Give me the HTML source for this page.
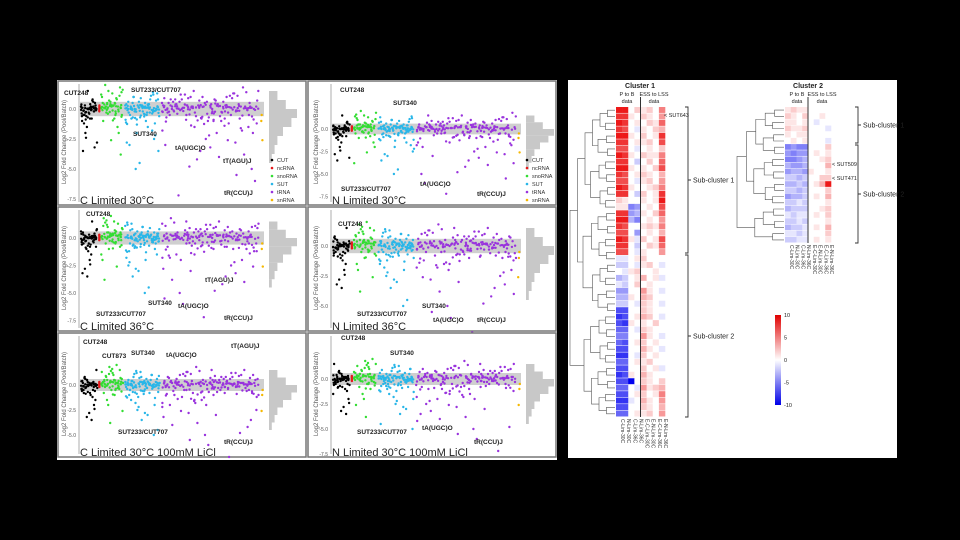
<!DOCTYPE html>
<html><head><meta charset="utf-8">
<style>
html,body{margin:0;padding:0;background:#000;width:960px;height:540px;overflow:hidden;font-family:"Liberation Sans",sans-serif;}
svg{position:absolute;left:0;top:0}
</style></head>
<body>
<svg id="fig" width="960" height="540" viewBox="0 0 960 540">
  <rect x="0" y="0" width="960" height="540" fill="#000"/>
  <rect x="57" y="80" width="500" height="380" fill="#fff"/>
  <rect x="568" y="80" width="329" height="378" fill="#fff"/>
  <g id="scatters"></g>
  <g id="heat"></g>
</svg>
<script>
const cutVals=[0.2,-0.1,0.3,0.5,-0.3,0.1,0.8,-0.6,0.0,0.4,-1.2,-0.2,1.5,0.1,-0.8,-2.0,0.3,-0.4,-3.5,0.6,-1.5,-2.8,0.2,-0.5,-3.2,0.0,-1.0,0.7,-2.4,-0.1];
const ncVals=[0.1,-0.2,0.3,-0.1,0.0,0.2];
const snoVals=[1.2,0.5,-0.3,1.8,0.2,-1.0,0.8,1.5,-0.5,0.3,2.0,-2.0,0.6,1.0,-0.2,0.4,-3.8,1.3,0.1,-1.5,0.7,1.6,-0.8,0.2,1.1,-2.6,0.5,0.9,-0.4,1.4];
const sutVals=[0.3,-0.5,1.0,-1.2,0.2,0.6,-0.3,-2.0,0.8,0.1,-0.8,1.4,-4.5,0.4,-1.5,0.0,0.7,-0.2,-3.0,1.1,0.3,-0.6,-1.0,0.5,-2.5,0.9,-0.1,0.4,-5.0,1.3,-0.4,0.2,-1.8,0.6,-0.9,0.1,1.0,-2.2,0.3,-0.3,0.8,-1.3,-3.5,0.5,0.0,1.2,-0.7,-2.8,0.4,-0.2];
const trnaVals=[0.5,-0.3,1.2,0.2,-1.0,0.8,-0.5,1.5,0.0,-2.0,0.6,-0.8,1.0,-3.0,0.3,0.9,-1.5,0.4,-0.2,1.3,-4.2,0.7,-0.6,0.1,1.8,-2.5,0.5,-1.2,0.2,-5.0,0.8,-0.4,1.1,-3.5,0.3,0.6,-0.9,1.4,-2.2,0.0,0.9,-0.3,-6.0,0.4,1.2,-1.6,0.2,-0.7,1.0,-4.8,0.5,-0.2,0.8,-2.8,0.3,1.5,-1.0,0.1,-3.8,0.6,-0.5,1.1,0.2,-2.0,0.7,-7.2,0.4,-0.8,0.9,-1.4,0.3,-0.1,-3.2,0.6,1.3,-0.6,0.2,-4.0,0.8,-1.8,0.5,-0.3,-2.6,1.0,0.1,-0.9,0.4,-5.5,0.7,-0.2];
const snVals=[-1.0,-2.6,-0.5];
const classNames=["CUT","ncRNA","snoRNA","SUT","tRNA","snRNA"];
const classColors=["#000000","#e41a1c","#33dd33","#29b6e8","#9933dd","#f5b800"];
const yTicks=[0,-2.5,-5,-7.5];
const yTickLabels=["0.0","-2.5","-5.0","-7.5"];
const panelTitles=["C Limited 30°C","N Limited 30°C","C Limited 36°C","N Limited 36°C","C Limited 30°C 100mM LiCl","N Limited 30°C 100mM LiCl"];

const NS="http://www.w3.org/2000/svg";
function mk(tag,attrs,parent){const e=document.createElementNS(NS,tag);for(const k in attrs)e.setAttribute(k,attrs[k]);parent.appendChild(e);return e;}

const panels=[
 {px:57,py:80,ax:79,zero:109,sc:12,right:263},
 {px:307,py:80,ax:331,zero:129,sc:9,right:520},
 {px:57,py:206,ax:79,zero:238,sc:11,right:263},
 {px:307,py:206,ax:331,zero:246,sc:12,right:520},
 {px:57,py:332,ax:79,zero:385,sc:10,right:263},
 {px:307,py:332,ax:331,zero:379,sc:10,right:520}
];
const annotations=[
 [["CUT248",64,95],["SUT233/CUT707",131,92],["SUT340",133,136],["tA(UGC)O",175,150],["tT(AGU)J",223,163],["tR(CCU)J",224,195]],
 [["CUT248",340,92],["SUT340",393,105],["SUT233/CUT707",341,191],["tA(UGC)O",420,186],["tR(CCU)J",477,196]],
 [["CUT248",86,216],["tT(AGU)J",205,282],["SUT340",148,305],["SUT233/CUT707",96,316],["tA(UGC)O",178,308],["tR(CCU)J",224,320]],
 [["CUT248",338,226],["SUT340",422,308],["SUT233/CUT707",357,316],["tA(UGC)O",433,322],["tR(CCU)J",477,322]],
 [["CUT248",83,344],["CUT873",102,358],["SUT340",131,355],["tA(UGC)O",166,357],["tT(AGU)J",231,348],["SUT233/CUT707",118,434],["tR(CCU)J",224,444]],
 [["CUT248",341,340],["SUT340",390,355],["SUT233/CUT707",357,434],["tA(UGC)O",422,430],["tR(CCU)J",474,444]]
];
const sg=document.getElementById('scatters');
panels.forEach((p,pi)=>{
  const g=mk('g',{},sg);
  
  
  const fr=mk('rect',{x:p.px+1,y:p.py+1,width:248,height:124,fill:'#fff',stroke:'#777','stroke-width':1.5},g);
  
  
  const yS=v=>p.zero-v*p.sc;
  const band=mk('rect',{x:p.ax+1,y:yS(0.6),width:p.right-p.ax,height:p.sc*1.2,fill:'#cfcfcf'},g);
  
  
  const ax=mk('line',{x1:p.ax,x2:p.ax,y1:p.py+4,y2:p.py+122,stroke:'#999','stroke-width':0.8},g);
  
  
  yTicks.forEach((t,i)=>{const y=yS(t);if(y<p.py+4||y>p.py+124)return;
    const tl=mk('text',{x:p.ax-3,y:y+2,'font-size':5,'text-anchor':'end',fill:'#555'},g);tl.textContent=yTickLabels[i];
    
    });
  const yt=mk('text',{transform:`translate(${p.ax-13},${p.py+62}) rotate(-90)`,'font-size':6,'text-anchor':'middle',fill:'#555'},g);
  yt.textContent='Log2 Fold Change (Pool/Batch)';
  
  
  const w=p.right-p.ax;
  const fr2=[0,0.1,0.11,0.24,0.44,0.98,1.0];
  const sets=[cutVals,ncVals,snoVals,sutVals,trnaVals,snVals];
  sets.forEach((vals,ci)=>{
    const x0=p.ax+2+w*fr2[ci],x1=p.ax+w*fr2[ci+1];
    vals.forEach((v,i)=>{
      const x=x0+(x1-x0)*((i*0.618+pi*0.13)%1);
      const c=mk('circle',{cx:x.toFixed(1),cy:yS(v).toFixed(1),r:1.2,fill:classColors[ci]},g);
      
      
    });
    if(ci===0||ci>=2&&ci<=4){vals.forEach((v,i)=>{const x=x0+(x1-x0)*((i*0.377+0.5)%1);
      const c=mk('circle',{cx:x.toFixed(1),cy:yS(v*0.25).toFixed(1),r:1.2,fill:classColors[ci]},g);
      
      });}
  });
  const hb=[0.3,0.6,1,0.8,0.5,0.3,0.2,0.1];
  hb.forEach((h,i)=>{const r=mk('rect',{x:p.right+6,y:yS(1.5-i*0.75),width:h*28,height:p.sc*0.75,fill:'#c8c8c8'},g);
    
    });
  const tt=mk('text',{x:p.ax+1,y:p.py+124,'font-size':11,fill:'#222'},g);
  tt.textContent=panelTitles[pi];
  
  
  annotations[pi].forEach(a=>{const t=mk('text',{x:a[1],y:a[2],'font-size':6.5,'font-weight':'bold',fill:'#222'},g);t.textContent=a[0];
    
    });
  if(pi<2){classNames.forEach((n,i)=>{const lx=pi===0?272:527,ly=160+i*8;
    const d=mk('circle',{cx:lx,cy:ly,r:1.3,fill:classColors[i]},g);
    
    
    const t=mk('text',{x:lx+5,y:ly+2,'font-size':5.5,fill:'#333'},g);t.textContent=n;
    
    });}
});

const cluster1Rows=["TTKMLMKP","SSLKMLKO","TSKLKMLQ","SRKJLKMN","TTLKMKLS","SSKLLMKR","RRKJKLKM","TSLKMLLP","SSKIKMKQ","TTLKLKMR","SRKLMLKN","RRKJLMKO","TSLKKLMP","SSKIMKLS","MLKKLKLT","LLFGKLKR","SSGHLKMQ","TTHFKLKO","SRKKLMLP","RRKGKLKN","TSLJMKLR","SSKIKMLQ","RRKJLKKO",
"JJKLMKKK","IIKJLMKJ","KJLMKKLK","HIKLNKLJ","JIKMKLKK","GGKKOLKJ","HHLKNMKK","IIKJMLKJ","DDKKMLKK","CDKLNMKJ","DCLKLKMK","EEKJMLKK","FFKKOLKJ","EDKLMKLK","DDKKNLKJ","CCKJMKLK","EEKLLMKK","DDKKMKLJ","CDLKNLKK","DDAKMLKM","EEKJOLMN","DDKLMKLP","CCJKNLKO","DDKKMLKN","EEKLLMKO"];
const cluster2Rows=["LMLLKKKK","MLKMKKLK","LLKLKJKK","MLLMKKKJ","LKLLKKKK","KLKLKKKJ",
"FGFFKKKM","GFGGKLKL","FFGHKKLM","HGGHKKKN","GHHGLKKL","IIHIKKMM","HHIHKLNT","IIHIKKKM","GHHIKLKN","IIJIKKKL","HIIIKKLM","JIJJKLKM","IIJIKKKL","HIIJKLKN","JJIJKKKM","IIJJKLKL"];
const colLabels=["C-Lim-30C","N-Lim-30C","C-Lim-36C","N-Lim-36C","E-C-Lim-30C","E-N-Lim-30C","E-C-Lim-36C","E-N-Lim-36C"];
const scaleTicks=[10,5,0,-5,-10];

function col(v){const t=Math.min(1,Math.abs(v)/10);
  const c=Math.round(255*(1-t));
  if(v>=0){const r=Math.round(255-20*t);return `rgb(${r},${c},${c})`;}
  const b=Math.round(255-15*t);return `rgb(${c},${c},${b})`;}
const hg=document.getElementById('heat');
function heatmap(rows,x0,y0,w,h,dendX,name){
  const g=mk('g',{},hg);
  
  
  const cw=w/8,rh=h/rows.length;
  rows.forEach((r,ri)=>{for(let c=0;c<8;c++){const v=r.charCodeAt(c)-75;
    const rc=mk('rect',{x:(x0+c*cw).toFixed(2),y:(y0+ri*rh).toFixed(2),width:(cw+0.3).toFixed(2),height:(rh*0.92).toFixed(2),fill:col(v)},g);
    
    }});
  const dv=mk('line',{x1:x0+4*cw,x2:x0+4*cw,y1:y0-10,y2:y0+h,stroke:'#333','stroke-width':1},g);
  
  
  let nodes=rows.map((r,i)=>({y:y0+(i+0.5)*rh,x:x0-1}));
  let lvl=0;
  while(nodes.length>1){lvl++;const nn=[];
    for(let i=0;i<nodes.length;i+=2){if(i+1>=nodes.length){nn.push(nodes[i]);continue;}
      const a=nodes[i],b=nodes[i+1];const nx=x0-1-(x0-dendX)*(lvl/Math.ceil(Math.log2(rows.length)))-(i%3);
      const p=mk('path',{d:`M${a.x},${a.y}H${nx}V${b.y}H${b.x}`,fill:'none',stroke:'#555','stroke-width':0.6},g);
      
      
      nn.push({x:nx,y:(a.y+b.y)/2});}
    nodes=nn;}
  colLabels.forEach((l,i)=>{const t=mk('text',{transform:`translate(${x0+i*cw+cw/2+2},${y0+h+2}) rotate(90)`,'font-size':5,fill:'#333'},g);
    t.textContent=l;
    
    });
  return g;
}
const g1=heatmap(cluster1Rows,616,107,49,310,571,'cluster-1-heatmap');
const g2=heatmap(cluster2Rows,785,107,46,136,738,'cluster-2-heatmap');
function txt(s,x,y,fs,anchor,bold,name,parent){const t=mk('text',{x:x,y:y,'font-size':fs,'text-anchor':anchor||'start','font-weight':bold?'bold':'normal',fill:'#222'},parent||hg);t.textContent=s;
  
  return t;}
txt('Cluster 1',640,88,7,'middle',true,'cluster-1-title');
txt('P to B',627,96,5.5,'middle',false,'p-to-b-header');txt('data',627,103,5.5,'middle',false,'p-to-b-header');
txt('ESS to LSS',654,96,5.5,'middle',false,'ess-to-lss-header');txt('data',654,103,5.5,'middle',false,'ess-to-lss-header');
txt('Cluster 2',808,88,7,'middle',true,'cluster-2-title');
txt('P to B',797,96,5.5,'middle',false,'p-to-b-header');txt('data',797,103,5.5,'middle',false,'p-to-b-header');
txt('ESS to LSS',822,96,5.5,'middle',false,'ess-to-lss-header');txt('data',822,103,5.5,'middle',false,'ess-to-lss-header');
function bracket(x,y1,y2,label,lx){const p=mk('path',{d:`M${x-3},${y1}H${x}V${y2}H${x-3}M${x},${(y1+y2)/2}H${x+3}`,fill:'none',stroke:'#333','stroke-width':0.9},hg);
  
  
  txt(label,x+5,(y1+y2)/2+2.5,7,'start',false,'sub-cluster-label');}
bracket(688,107,253,'Sub-cluster 1');bracket(688,255,417,'Sub-cluster 2');
bracket(858,107,143,'Sub-cluster 1');bracket(858,145,243,'Sub-cluster 2');
txt('< SUT643',664,117,5.5,'start',false,'gene-annotation');
txt('< SUT509',832,166,5.5,'start',false,'gene-annotation');
txt('< SUT471',832,180,5.5,'start',false,'gene-annotation');
const defs=mk('defs',{},hg);
const lg=mk('linearGradient',{id:'cs',x1:0,y1:0,x2:0,y2:1},defs);
mk('stop',{offset:'0',"stop-color":'#e00000'},lg);mk('stop',{offset:'0.5',"stop-color":'#ffffff'},lg);mk('stop',{offset:'1',"stop-color":'#0000e8'},lg);
const cb=mk('rect',{x:775,y:315,width:6,height:90,fill:'url(#cs)'},hg);


scaleTicks.forEach((t,i)=>{txt(String(t),784,317+(10-t)/20*90,5.5,'start',false,'color-scale-label');});
</script>
</body></html>
